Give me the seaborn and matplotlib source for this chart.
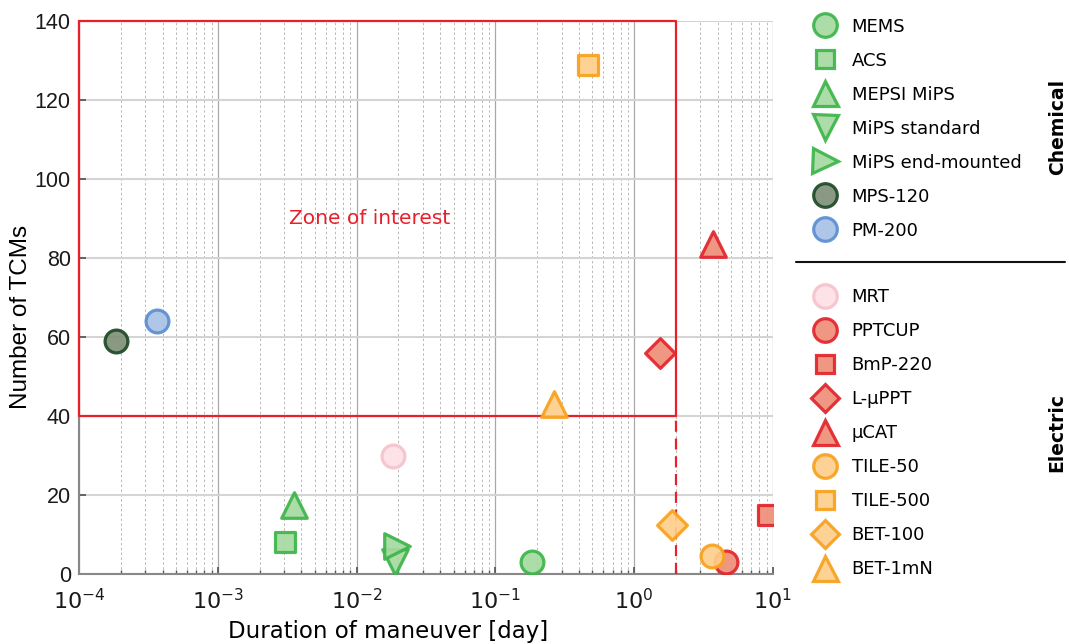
import matplotlib
matplotlib.use("Agg")
import matplotlib.pyplot as plt
import seaborn as sns
import pandas as pd
import numpy as np
from matplotlib.lines import Line2D
from matplotlib.ticker import LogLocator, FixedLocator

sns.set_theme(style="white")
plt.rcParams['font.family'] = ['DejaVu Sans']
plt.rcParams['text.color'] = 'black'
plt.rcParams['mathtext.fontset'] = 'custom'
plt.rcParams['mathtext.rm'] = 'Liberation Sans'
plt.rcParams['mathtext.it'] = 'Liberation Sans'
plt.rcParams['mathtext.bf'] = 'Liberation Sans:bold'

# ---- data ----
names = ["MEMS", "ACS", "MEPSI MiPS", "MiPS standard", "MiPS end-mounted", "MPS-120", "PM-200",
         "MRT", "PPTCUP", "BmP-220", "L-\u00b5PPT", "\u00b5CAT", "TILE-50", "TILE-500", "BET-100", "BET-1mN"]
groups = ["Chemical"] * 7 + ["Electric"] * 9
duration = [0.185, 0.00305, 0.00352, 0.0189, 0.0196, 0.000185, 0.000365,
            0.0183, 4.6, 9.2, 1.53, 3.7, 3.62, 0.465, 1.87, 0.265]
tcms = [3, 8, 17.5, 3, 7, 59, 64,
        30, 3, 15, 56, 83.5, 4.5, 129, 12.5, 43]
markers = ["o", "s", "^", "v", ">", "o", "o",
           "o", "o", "s", "D", "^", "o", "s", "D", "^"]
edge_colors = ["#3db54a", "#3db54a", "#3db54a", "#3db54a", "#3db54a", "#1e4a26", "#5b8fd0",
               "#f6c3cd", "#e3242b", "#e3242b", "#e3242b", "#e3242b", "#f8a11c", "#f8a11c", "#f8a11c", "#f8a11c"]
face_colors = ["#a5d9a0", "#a5d9a0", "#a5d9a0", "#a5d9a0", "#a5d9a0", "#7f9178", "#a9c1e6",
               "#fde0e6", "#ee8e78", "#ee8e78", "#ee8e78", "#ee8e78", "#fecf8c", "#fecf8c", "#fecf8c", "#fecf8c"]
sizes = [270, 190, 340, 340, 340, 270, 270, 270, 270, 190, 230, 340, 270, 190, 230, 340]
xtick_vals = [1e-4, 1e-3, 1e-2, 1e-1, 1, 10]
xtick_labels = [r"$\mathregular{10^{-4}}$", r"$\mathregular{10^{-3}}$", r"$\mathregular{10^{-2}}$",
                r"$\mathregular{10^{-1}}$", r"$\mathregular{10^{0}}$", r"$\mathregular{10^{1}}$"]
ytick_vals = [0, 20, 40, 60, 80, 100, 120, 140]

df = pd.DataFrame({"name": names, "group": groups, "duration": duration, "tcms": tcms})

fig = plt.figure(figsize=(10.69, 6.44), dpi=100)
ax = fig.add_axes([0.074, 0.1087, 0.649, 0.8583])

for i, row in df.iterrows():
    sns.scatterplot(data=df.iloc[[i]], x="duration", y="tcms", ax=ax,
                    marker=markers[i], s=sizes[i], color=face_colors[i],
                    edgecolor=edge_colors[i], linewidth=2.3, alpha=0.92, zorder=5, legend=False)

ax.set_xscale("log")
ax.set_xlim(1e-4, 10)
ax.set_ylim(0, 140)
ax.set_yticks(ytick_vals)
ax.set_yticklabels([str(v) for v in ytick_vals], fontfamily="Liberation Sans")
ax.xaxis.set_major_locator(FixedLocator(xtick_vals))
ax.xaxis.set_minor_locator(LogLocator(base=10, subs=np.arange(2, 10), numticks=20))
ax.set_xticklabels(xtick_labels)
ax.tick_params(axis="x", which="major", labelsize=16, direction="in", length=5, color="#555555",
               pad=10, labelcolor="#1a1a1a")
ax.tick_params(axis="x", which="minor", direction="in", length=3, color="#555555")
ax.tick_params(axis="y", which="major", labelsize=15.5, direction="in", length=5, color="#555555",
               labelcolor="#1a1a1a", pad=6)
ax.tick_params(bottom=True, left=True, which="both")

ax.grid(axis="y", which="major", color="#d4d4d4", linewidth=1.5, linestyle="-")
ax.grid(axis="x", which="major", color="#a8a8a8", linewidth=0.9, linestyle="-")
ax.grid(axis="x", which="minor", color="#b8b8b8", linewidth=0.7, linestyle=(0, (2.5, 2.5)))
ax.set_axisbelow(True)
for s in ["top", "right"]:
    ax.spines[s].set_visible(False)
for s in ["left", "bottom"]:
    ax.spines[s].set_color("#888888")
    ax.spines[s].set_linewidth(1.5)

ax.set_xlabel("Duration of maneuver [day]", fontsize=16.5, color="black")
ax.set_ylabel("Number of TCMs", fontsize=17.5, fontfamily="Liberation Sans", color="black")
ax.xaxis.set_label_coords(0.445, -0.083)
ax.yaxis.set_label_coords(-0.068, 0.465)

# zone of interest
ax.plot([1e-4, 2, 2, 1e-4, 1e-4], [140, 140, 40, 40, 140], color="#e8202a", lw=1.6, zorder=4, clip_on=False)
ax.plot([2, 2], [0, 40], color="#e8202a", lw=1.6, ls=(0, (5, 3)), zorder=4)
ax.text(0.0125, 90, "Zone of interest", color="#e8202a", fontsize=14.5, ha="center", va="center")

# legends
def handle(i):
    ms = {"s": 13, "D": 14, "^": 18, "v": 18, ">": 18, "o": 17}[markers[i]]
    return Line2D([], [], marker=markers[i], ls="", markersize=ms, markerfacecolor=face_colors[i],
                  markeredgecolor=edge_colors[i], markeredgewidth=2.3, alpha=0.92)

chem = [i for i in range(16) if groups[i] == "Chemical"]
elec = [i for i in range(16) if groups[i] == "Electric"]
leg1 = fig.legend([handle(i) for i in chem], [names[i] for i in chem], loc="upper left",
                  bbox_to_anchor=(0.741, 0.995), frameon=False, fontsize=13,
                  labelspacing=0.885, handletextpad=0.5, borderpad=0.3)
leg2 = fig.legend([handle(i) for i in elec], [names[i] for i in elec], loc="upper left",
                  bbox_to_anchor=(0.741, 0.575), frameon=False, fontsize=13,
                  labelspacing=0.885, handletextpad=0.5, borderpad=0.3)
for leg in (leg1, leg2):
    for t in leg.get_texts():
        t.set_color("black")
fig.add_artist(Line2D([0.745, 0.996], [0.593, 0.593], color="#111111", lw=1.5, transform=fig.transFigure))
fig.text(0.989, 0.803, "Chemical", rotation=90, fontsize=13.5, fontweight="bold", ha="center", va="center")
fig.text(0.989, 0.329, "Electric", rotation=90, fontsize=13.5, fontweight="bold", ha="center", va="center")

fig.savefig("out.png", dpi=100)
